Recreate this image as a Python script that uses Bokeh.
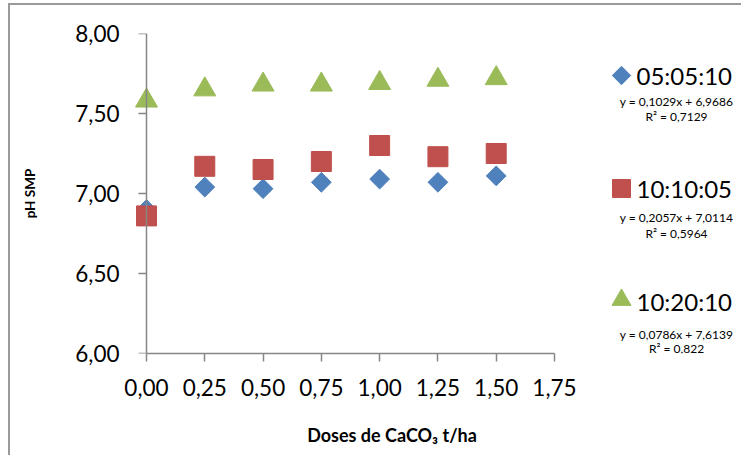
import math
from bokeh.plotting import figure
from bokeh.models import FixedTicker, CustomJSTickFormatter, LinearAxis, ColumnDataSource
from bokeh.core.properties import value
from bokeh.embed import file_html
from bokeh.resources import INLINE

# ---------------- data ----------------
doses = [0.0, 0.25, 0.50, 0.75, 1.00, 1.25, 1.50]
s1_name = "05:05:10"
s1_ph = [6.90, 7.04, 7.03, 7.07, 7.09, 7.07, 7.11]
s2_name = "10:10:05"
s2_ph = [6.86, 7.17, 7.15, 7.20, 7.30, 7.23, 7.25]
s3_name = "10:20:10"
s3_ph = [7.58, 7.65, 7.68, 7.68, 7.69, 7.71, 7.72]
equations = ["y = 0,1029x + 6,9686", "y = 0,2057x + 7,0114", "y = 0,0786x + 7,6139"]
r_squared = ["R² = 0,7129", "R² = 0,5964", "R² = 0,822"]
x_ticks = [0.0, 0.25, 0.50, 0.75, 1.00, 1.25, 1.50, 1.75]
y_ticks = [6.0, 6.5, 7.0, 7.5, 8.0]
x_title = "Doses de CaCO\u2083 t/ha"
y_title = "pH SMP"

# ---------------- layout (page pixels) ----------------
CX, CY = 10, 5                        # page position of canvas (after CSS margin + border)
W, H = 733, 452
AX_X0, AX_X1 = 146, 554               # page px of x=0 and x=1.75
AX_Y0, AX_Y1 = 353, 33                # page px of y=6 and y=8
PX = (AX_X1 - AX_X0) / 1.75
PY = (AX_Y0 - AX_Y1) / 2.0
FR_L, FR_R, FR_T, FR_B = 132, 741, 33, 353


def dx(px):
    return (px - AX_X0) / PX


def dy(py):
    return 6.0 + (AX_Y0 - py) / PY


FONT = "Lato"
AXIS_COL = "#868686"
BLUE, RED, GREEN = "#4F81BD", "#C0504D", "#9BBB59"

p = figure(width=W, height=H, output_backend="svg", toolbar_location=None,
           x_range=(dx(FR_L), dx(FR_R)), y_range=(dy(FR_B), dy(FR_T)),
           min_border_left=FR_L - CX, min_border_right=W - (FR_R - CX),
           min_border_top=FR_T - CY, min_border_bottom=H - (FR_B - CY))
p.styles = {"border-left": "2px solid #9a9a9a", "border-top": "2px solid #9a9a9a",
            "margin-left": "8px", "margin-top": "3px"}
p.outline_line_color = None
p.grid.visible = False
p.background_fill_color = "white"
p.border_fill_color = "white"

fmt = CustomJSTickFormatter(code="return tick.toFixed(2).replace('.', ',');")
blank = CustomJSTickFormatter(code="return '';")


def style_axis(ax, ticks):
    ax.ticker = FixedTicker(ticks=ticks)
    ax.formatter = fmt
    ax.bounds = (ticks[0], ticks[-1])
    ax.axis_line_color = AXIS_COL
    ax.axis_line_width = 1.5
    ax.major_tick_line_color = AXIS_COL
    ax.major_tick_line_width = 1.5
    ax.major_tick_in = 0
    ax.major_tick_out = 8
    ax.minor_tick_line_color = None
    ax.major_label_text_font = FONT
    ax.major_label_text_font_size = "22.5px"
    ax.major_label_text_color = "#000000"


# x axis (in bottom panel, at y = 6)
xa = p.xaxis[0]
style_axis(xa, x_ticks)
xa.major_label_standoff = 17

# y axis: labels + title from the panel axis, line + ticks from an axis fixed at x = 0
ya = p.yaxis[0]
style_axis(ya, y_ticks)
ya.axis_line_color = None
ya.major_tick_line_color = None
ya.major_tick_out = 0
ya.major_label_standoff = 13
ya.axis_label = y_title
ya.axis_label_text_font = FONT
ya.axis_label_text_font_size = "13.5px"
ya.axis_label_text_font_style = "bold"
ya.axis_label_text_color = "#000000"
ya.axis_label_standoff = 34

yl = LinearAxis()
style_axis(yl, y_ticks)
yl.formatter = blank
yl.major_label_text_font_size = "0px"
yl.major_label_standoff = 0
yl.fixed_location = 0.0
p.add_layout(yl, "left")

# x title: an extra axis without ticks; trailing em spaces move its centre left
xt = LinearAxis(ticker=FixedTicker(ticks=[]), formatter=blank)
xt.axis_line_color = None
xt.major_tick_line_color = None
xt.minor_tick_line_color = None
xt.major_label_text_font_size = "0px"
xt.major_label_standoff = 0
xt.axis_label = x_title + "\u2003" * 6 + "\u2002"
xt.axis_label_text_font = FONT
xt.axis_label_text_font_size = "18px"
xt.axis_label_text_font_style = "bold"
xt.axis_label_text_color = "#000000"
xt.axis_label_standoff = 25
p.add_layout(xt, "below")

# ---------------- series ----------------
src1 = ColumnDataSource(dict(x=doses, y=s1_ph))
src2 = ColumnDataSource(dict(x=doses, y=s2_ph))
src3 = ColumnDataSource(dict(x=doses, y=s3_ph))
p.scatter("x", "y", source=src1, marker="square", size=14, angle=math.pi / 4,
          fill_color=BLUE, line_color=BLUE)
p.scatter("x", "y", source=src2, marker="square", size=20,
          fill_color=RED, line_color=RED)
p.scatter("x", "y", source=src3, marker="triangle", size=22,
          fill_color=GREEN, line_color=GREEN)

# ---------------- legend (drawn in plot area) ----------------
names = [s1_name, s2_name, s3_name]
leg_y = [75, 188, 301]
eq_y = [100.5, 217, 333.5]
r2_y = [115.5, 233, 348]
leg_mx = dx(621)
p.scatter([leg_mx], [dy(leg_y[0])], marker="square", size=13, angle=math.pi / 4,
          fill_color=BLUE, line_color=BLUE)
p.scatter([leg_mx], [dy(leg_y[1])], marker="square", size=18,
          fill_color=RED, line_color=RED)
p.scatter([leg_mx], [dy(leg_y[2]) + 0.01], marker="triangle", size=19,
          fill_color=GREEN, line_color=GREEN)
p.text([dx(636)] * 3, [dy(v) for v in leg_y], text=names,
       text_font=value(FONT), text_font_size="24px", text_color="#000000",
       text_align="left", text_baseline="middle")
p.text([dx(676)] * 3, [dy(v) for v in eq_y], text=equations,
       text_font=value(FONT), text_font_size="12px", text_color="#000000",
       text_align="center", text_baseline="middle")
p.text([dx(676)] * 3, [dy(v) for v in r2_y], text=r_squared,
       text_font=value(FONT), text_font_size="12px", text_color="#000000",
       text_align="center", text_baseline="middle")

open("out.html", "w").write(file_html(p, INLINE))
